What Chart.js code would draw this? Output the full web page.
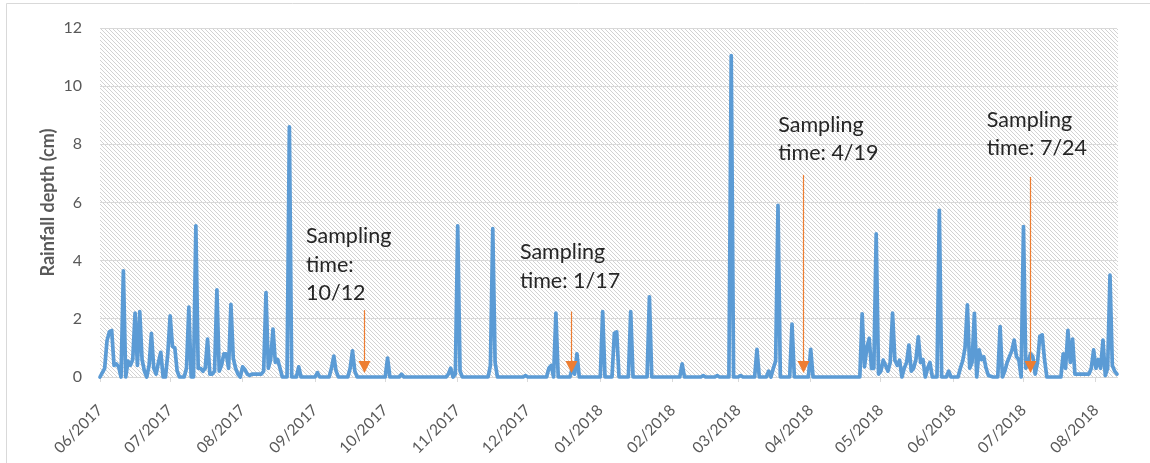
<!DOCTYPE html>
<html><head><meta charset="utf-8">
<script src="https://cdn.jsdelivr.net/npm/chart.js@4.4.0/dist/chart.umd.min.js"></script>
<style>html,body{margin:0;padding:0;background:#fff;}#wrap{width:1150px;height:463px;}</style>
</head><body><div id="wrap"><canvas id="c" width="1150" height="463"></canvas></div>
<script>
// ---- data ----
const monthLabels = ['06/2017','07/2017','08/2017','09/2017','10/2017','11/2017','12/2017','01/2018','02/2018','03/2018','04/2018','05/2018','06/2018','07/2018','08/2018'];
const monthStartDay = [0,30,61,92,122,153,183,214,245,273,304,334,365,395,426];
const yTicks = [0,2,4,6,8,10,12];
// day index (0 = 1 June 2017) of each vertex of the rainfall line
const rainDay = [
0,2,3,4,5,6,7,8,9,10,11,12,13,14,15,16,17,18,19,20,
21,22,23,24,25,26,27,28,29,30,31,32,33,34,36,37,38,39,40,41,
42,43,44,45,46,47,48,49,50,51,52,53,54,55,56,57,58,59,60,61,
62,63,64,65,69,70,71,72,73,74,75,76,77,78,80,81,82,84,85,86,
92,93,94,98,99,100,101,102,106,107,108,109,110,122,123,124,128,129,130,148,
149,150,151,152,153,154,155,166,167,168,169,170,181,182,183,191,192,193,194,195,
196,201,202,203,204,205,214,215,216,219,220,221,222,226,227,228,234,235,236,248,
249,250,257,258,259,263,264,265,269,270,271,273,274,275,280,281,282,285,286,287,
288,289,290,291,295,296,297,303,304,305,325,326,327,328,329,330,331,332,333,334,
335,336,337,338,339,340,341,342,343,344,345,346,347,348,349,350,351,352,353,354,
355,356,358,359,360,362,363,364,367,368,369,370,371,372,373,374,375,376,377,378,
379,380,382,384,385,386,387,388,389,390,391,392,393,394,395,396,397,398,399,400,
401,402,403,404,405,411,412,413,414,415,416,417,423,424,425,426,427,428,429,430,
431,432,433,434,435];
// rainfall depth (cm) at each vertex
const rainCm = [
0,0.3,1.25,1.55,1.6,0.4,0.45,0.35,0,3.65,0,0.55,0.4,0.6,2.2,0.4,2.25,0.6,0.2,0,
0.4,1.5,0.3,0.1,0.5,0.85,0,0,0.8,2.1,1.05,1.0,0.2,0,0,0.3,2.4,0,0,5.2,
0.3,0.3,0.2,0.3,1.3,0.1,0.1,0.2,3.0,0.2,0.4,0.8,0.8,0.3,2.5,0.65,0.3,0.1,0,0.35,
0.25,0.1,0.05,0.1,0.1,0.2,2.9,0.3,0.6,1.65,0.5,0.6,0.3,0,0,8.6,0,0,0.35,0,
0,0.15,0,0,0.3,0.72,0.2,0,0,0.3,0.9,0.2,0,0,0.65,0,0,0.1,0,0,
0.1,0.3,0,0.1,5.2,0.2,0,0,0.4,5.1,0.5,0,0,0.05,0,0,0.3,0.4,0,2.2,
0,0,0.3,0.1,0.8,0,0,2.25,0,0,1.5,1.55,0,0,2.25,0,0,2.76,0,0,
0.45,0,0,0.05,0,0,0.05,0,0,11.05,0,0,0.05,0,0,0.95,0,0,0.2,0,
0.3,0.55,5.9,0,0,1.82,0,0,0.95,0,0,2.17,0.35,1.0,1.33,0.3,0.3,4.92,0.1,0.2,
0.58,0.4,0.2,0.5,2.2,0.58,0.4,0.58,0,0.3,0.5,1.1,0.2,0.3,0.6,1.38,0.5,0.6,0,0.3,
0.5,0,0,5.73,0,0,0.2,0,0,0.3,0.55,1.0,2.48,0.3,0.5,2.19,0,0.93,0.6,0.7,
0.3,0.05,0,0,1.73,0,0.2,0.5,0.7,0.9,1.27,0.7,0.6,0,5.17,0.3,0.5,0.8,0.7,0.1,
0.5,1.4,1.45,0.6,0,0,0.8,0.3,1.6,0.5,1.3,0.1,0.1,0.3,0.93,0.3,0.6,0.3,1.27,0.05,
0.3,3.5,0.4,0.2,0.1];
// sampling annotations
const samplingText = [['Sampling','time:','10/12'],['Sampling','time: 1/17'],['Sampling','time: 4/19'],['Sampling','time: 7/24']];
const samplingArrowDay = [112.9, 201.5, 300.7, 397.8];

// ---- layout / style (not data) ----
const annoLayout = [
  {textDay: 88.1, baseVal: 4.6, arrowTopVal: 2.3},
  {textDay: 179.6, baseVal: 4.05, arrowTopVal: 2.25},
  {textDay: 290.1, baseVal: 8.44, arrowTopVal: 6.95},
  {textDay: 379.3, baseVal: 8.61, arrowTopVal: 6.88}
];
const FONT = 'Lato, "Open Sans", sans-serif';
Chart.defaults.font.family = FONT;

function makeHatch(){
  const p = document.createElement('canvas'); p.width = 4; p.height = 4;
  const g = p.getContext('2d');
  g.fillStyle = '#ffffff'; g.fillRect(0,0,4,4);
  g.fillStyle = '#d2d2d2';
  for (let i=0;i<4;i++) g.fillRect(i,i,1,1);
  return p;
}

const bgPlugin = {
  id: 'bg',
  beforeDraw(chart){
    const {ctx, chartArea:a} = chart;
    ctx.save();
    ctx.fillStyle = '#fff'; ctx.fillRect(0,0,chart.width,chart.height);
    ctx.strokeStyle = '#d9d9d9'; ctx.lineWidth = 1;
    ctx.beginPath(); ctx.moveTo(6.5, 463); ctx.lineTo(6.5, 3.5); ctx.lineTo(1150, 3.5); ctx.stroke();
    const pat = ctx.createPattern(makeHatch(), 'repeat');
    ctx.fillStyle = pat;
    ctx.fillRect(a.left, a.top, a.right - a.left + 1, a.bottom - a.top);
    ctx.restore();
  }
};

const annoPlugin = {
  id: 'anno',
  afterDatasetsDraw(chart){
    const {ctx, scales:{x, y}} = chart;
    ctx.save();
    samplingText.forEach((lines, i) => {
      const L = annoLayout[i];
      const ax = Math.round(x.getPixelForValue(samplingArrowDay[i])) + 0.5;
      const top = y.getPixelForValue(L.arrowTopVal);
      const tip = y.getPixelForValue(0.14);
      ctx.strokeStyle = '#ED7D31'; ctx.fillStyle = '#ED7D31'; ctx.lineWidth = 1.2;
      ctx.beginPath(); ctx.moveTo(ax, top); ctx.lineTo(ax, tip - 10); ctx.stroke();
      ctx.beginPath(); ctx.moveTo(ax - 6, tip - 12); ctx.lineTo(ax + 6, tip - 12); ctx.lineTo(ax, tip); ctx.closePath(); ctx.fill();
      ctx.fillStyle = '#262626';
      ctx.font = '21.5px ' + FONT;
      ctx.textAlign = 'left'; ctx.textBaseline = 'alphabetic';
      const tx = x.getPixelForValue(L.textDay);
      const by = y.getPixelForValue(L.baseVal);
      lines.forEach((t, k) => ctx.fillText(t, tx, by + k * 28.5));
    });
    ctx.restore();
  }
};

new Chart(document.getElementById('c'), {
  type: 'line',
  data: {
    datasets: [{
      data: rainDay.map((d, i) => ({x: d, y: rainCm[i]})),
      borderColor: '#5B9BD5',
      borderWidth: 3.7,
      pointRadius: 0,
      tension: 0,
      borderJoinStyle: 'round',
      borderCapStyle: 'round',
      fill: false,
      clip: 6
    }]
  },
  options: {
    responsive: false,
    animation: false,
    devicePixelRatio: 1,
    layout: {padding: {left: 37, right: 33, top: 28, bottom: 0}},
    plugins: {legend: {display: false}, tooltip: {enabled: false}},
    scales: {
      x: {
        type: 'linear',
        min: 0, max: 435,
        afterBuildTicks: s => { s.ticks = monthStartDay.map(v => ({value: v})); },
        afterFit: s => { s.height = 86; },
        ticks: {
          autoSkip: false, minRotation: 45, maxRotation: 45,
          color: '#595959', font: {size: 15.5}, padding: 19,
          callback: v => monthLabels[monthStartDay.indexOf(v)]
        },
        grid: {drawOnChartArea: false, drawTicks: true, tickLength: 5, tickColor: '#d9d9d9'},
        border: {display: true, color: '#d9d9d9', width: 1}
      },
      y: {
        min: 0, max: 12,
        afterBuildTicks: s => { s.ticks = yTicks.map(v => ({value: v})); },
        afterFit: s => { s.width = 63; },
        ticks: {color: '#595959', font: {size: 16}, padding: 18},
        grid: {color: '#d9d9d9', drawTicks: false},
        border: {display: false},
        title: {display: true, text: 'Rainfall depth (cm)', color: '#595959', font: {size: 18, weight: 'bold'}, padding: {top: 0, bottom: 0}}
      }
    }
  },
  plugins: [bgPlugin, annoPlugin]
});
</script></body></html>
